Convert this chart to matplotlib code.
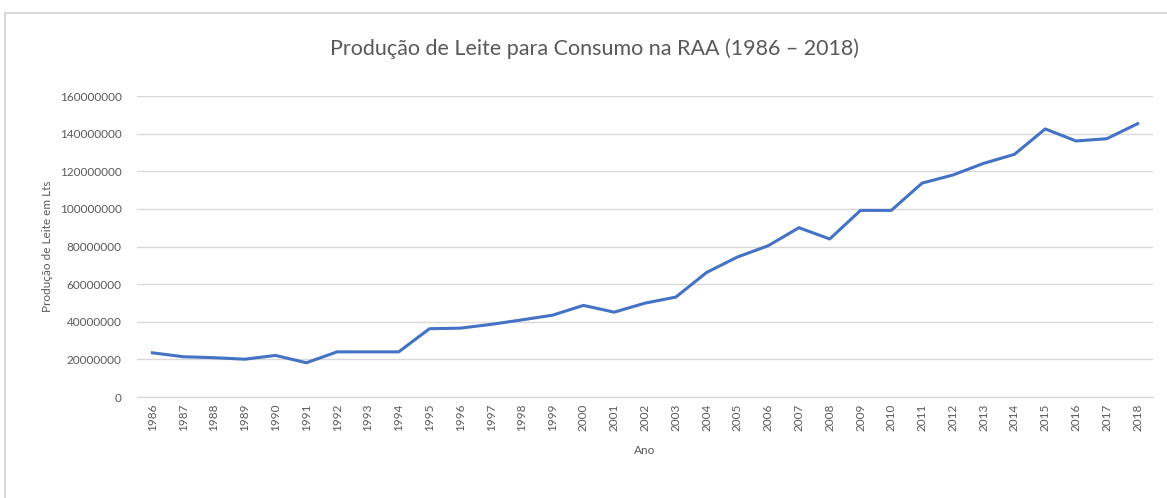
import matplotlib.pyplot as plt
from matplotlib.patches import Rectangle

# Produção de leite para consumo na RAA
anos = list(range(1986, 2019))
producao = [23.5, 21.4, 20.9, 20.1, 22.1, 18.2, 24.0, 24.0, 24.0, 36.3,
            36.6, 38.6, 41.0, 43.5, 48.7, 45.1, 49.9, 53.1, 66.2, 74.4,
            80.4, 90.0, 84.0, 99.2, 99.2, 113.7, 118.0, 124.2, 129.0, 142.5,
            136.1, 137.3, 145.3]
producao = [v * 1e6 for v in producao]
yticks = list(range(0, 160000001, 20000000))

plt.rcParams['font.family'] = ['Lato', 'DejaVu Sans']
cinza = '#595959'

fig = plt.figure(figsize=(11.67, 4.98), dpi=100)
ax = fig.add_axes([0.1174, 0.2028, 0.8706, 0.6044])

# moldura do gráfico (estilo Excel)
topo = 1 - 13 / 498
fig.patches.append(Rectangle((5 / 1167, -0.2), 1.2, topo + 0.2,
                             transform=fig.transFigure, fill=False,
                             edgecolor='#d9d9d9', linewidth=1.5))

x = list(range(len(anos)))
ax.plot(x, producao, color='#4472C4', linewidth=2.2, solid_joinstyle='round')

ax.set_xlim(-0.5, len(anos) - 0.5)
ax.set_ylim(0, 160000000)
ax.set_xticks(x)
ax.set_xticklabels([str(a) for a in anos], rotation=90, fontsize=8.5, color=cinza)
ax.set_yticks(yticks)
ax.set_yticklabels([str(v) for v in yticks], fontsize=8.5, color=cinza)
ax.tick_params(length=0)
ax.tick_params(axis='y', pad=11)
ax.tick_params(axis='x', pad=5)
ax.grid(axis='y', color='#d9d9d9', linewidth=1)
ax.set_axisbelow(True)
for s in ['top', 'right', 'left']:
    ax.spines[s].set_visible(False)
ax.spines['bottom'].set_color('#d9d9d9')

ax.set_xlabel('Ano', fontsize=8.5, color=cinza, labelpad=10)
ax.set_ylabel('Produção de Leite em Lts', fontsize=8.5, color=cinza, labelpad=5)
fig.text(0.509, 0.903, 'Produção de Leite para Consumo na RAA (1986 – 2018)',
         ha='center', va='center', fontsize=15.5, color=cinza)

fig.savefig('out.png', dpi=100)
